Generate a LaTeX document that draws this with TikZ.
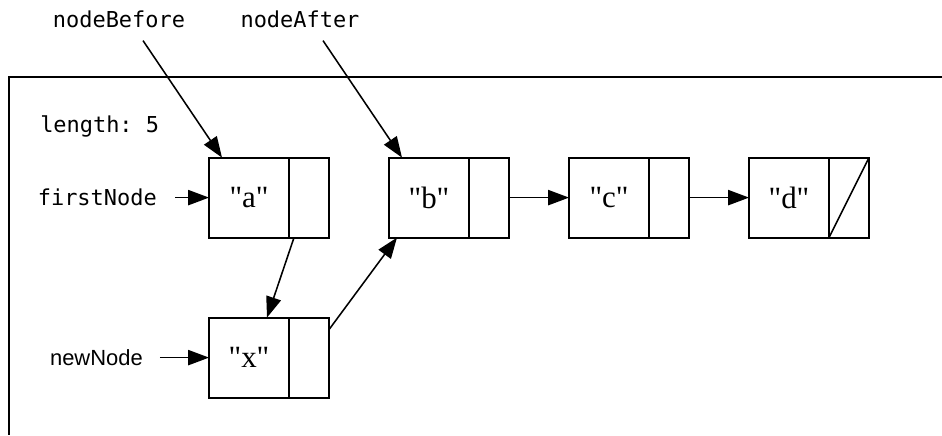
\documentclass[tikz,border=0pt]{standalone}
\usepackage{fontspec}
\setmonofont{DejaVu Sans Mono}
\newfontfamily\boxfont{Liberation Serif}
\newfontfamily\varfont{Liberation Sans}
\usetikzlibrary{arrows.meta, positioning}

\begin{document}
\begin{tikzpicture}[
    >={Triangle[length=0.52cm, width=0.38cm]},
    % Core styles
    databox/.style={
        rectangle, draw=black, line width=1.4pt, outer sep=0pt, inner sep=0pt,
        minimum width=2cm, minimum height=2cm,
        font=\boxfont\fontsize{22}{26}\selectfont
    },
    ptrbox/.style={
        rectangle, draw=black, line width=1.4pt, outer sep=0pt, inner sep=0pt,
        minimum width=1cm, minimum height=2cm
    },
    pointer/.style={->, line width=1.1pt},
    codelabel/.style={font=\ttfamily\fontsize{15.6}{18}\selectfont, inner sep=0pt},
    varlabel/.style={font=\varfont\fontsize{15.6}{18}\selectfont, inner sep=0pt}
]

\useasboundingbox (0,0) rectangle (23.55,-10.875);

% === OBJECT FRAME ===
\draw[line width=1.4pt] (23.55,-1.925) -- (0.225,-1.925) -- (0.225,-10.875);

\node[codelabel, anchor=base west] (len) at (1.0,-3.3) {length: 5};

% === LIST NODES ===
\node[databox] (a) at (6.225,-4.94) {"a"};
\node[ptrbox, right=0pt of a] (aptr) {};

\node[databox, right=1.5cm of aptr] (b) {"b"};
\node[ptrbox, right=0pt of b] (bptr) {};

\node[databox, right=1.5cm of bptr] (c) {"c"};
\node[ptrbox, right=0pt of c] (cptr) {};

\node[databox, right=1.5cm of cptr] (d) {"d"};
\node[ptrbox, right=0pt of d] (dptr) {};
\draw[line width=1.1pt] (dptr.south west) -- (dptr.north east);

% New node below the first one
\node[databox, below=2cm of a] (x) {"x"};
\node[ptrbox, right=0pt of x] (xptr) {};

% === LINKS ===
\draw[pointer] (bptr) -- (c);
\draw[pointer] (cptr) -- (d);
\draw[pointer] ([xshift=0.125cm]aptr.south west) -- ([xshift=0.45cm]x.north);
\draw[pointer] ([yshift=-0.3cm]xptr.north east) -- ([xshift=0.2cm]b.south west);

% === VARIABLES ===
\node[codelabel, left=1.3cm of a] (first) {firstNode};
\draw[pointer, shorten <=0.45cm] (first) -- (a);

\node[varlabel, left=1.65cm of x] (new) {newNode};
\draw[pointer, shorten <=0.42cm] (new) -- (x);

\node[codelabel, anchor=base] (before) at (2.975,-0.675) {nodeBefore};
\draw[pointer] ([xshift=0.6cm, yshift=-0.325cm]before.south) -- ([xshift=0.325cm]a.north west);

\node[codelabel, anchor=base] (after) at (7.5,-0.675) {nodeAfter};
\draw[pointer] ([xshift=0.575cm, yshift=-0.325cm]after.south) -- ([xshift=0.325cm]b.north west);

\end{tikzpicture}
\end{document}
